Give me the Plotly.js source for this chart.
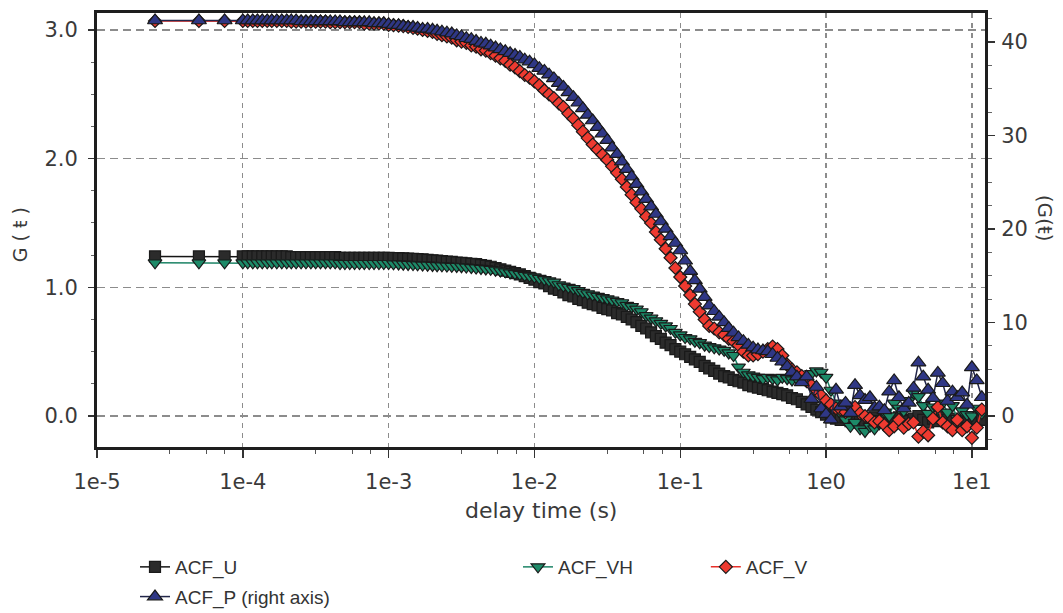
<!DOCTYPE html>
<html>
<head>
<meta charset="utf-8">
<script src="https://cdn.plot.ly/plotly-3.0.1.min.js"></script>
<style>
  html, body { margin: 0; padding: 0; background: #ffffff; }
  #chart { width: 1063px; height: 613px; }
</style>
</head>
<body>
<div id="chart"></div>
<script>
// delay time (s)
const delayTime = [2.5e-5,5e-5,7.5e-5,
  1.00e-4,1.08e-4,1.17e-4,1.26e-4,1.36e-4,1.47e-4,1.58e-4,1.71e-4,1.85e-4,2.00e-4,2.15e-4,2.32e-4,2.51e-4,2.71e-4,2.93e-4,3.16e-4,3.41e-4,3.69e-4,3.98e-4,4.30e-4,4.64e-4,5.01e-4,5.41e-4,5.84e-4,6.31e-4,6.81e-4,7.36e-4,7.94e-4,8.58e-4,9.26e-4,
  1.00e-3,1.08e-3,1.17e-3,1.26e-3,1.36e-3,1.47e-3,1.58e-3,1.71e-3,1.85e-3,2.00e-3,2.15e-3,2.32e-3,2.51e-3,2.71e-3,2.93e-3,3.16e-3,3.41e-3,3.69e-3,3.98e-3,4.30e-3,4.64e-3,5.01e-3,5.41e-3,5.84e-3,6.31e-3,6.81e-3,7.36e-3,7.94e-3,8.58e-3,9.26e-3,
  1.00e-2,1.08e-2,1.17e-2,1.26e-2,1.36e-2,1.47e-2,1.58e-2,1.71e-2,1.85e-2,2.00e-2,2.15e-2,2.32e-2,2.51e-2,2.71e-2,2.93e-2,3.16e-2,3.41e-2,3.69e-2,3.98e-2,4.30e-2,4.64e-2,5.01e-2,5.41e-2,5.84e-2,6.31e-2,6.81e-2,7.36e-2,7.94e-2,8.58e-2,9.26e-2,
  0.100,0.108,0.117,0.126,0.136,0.147,0.158,0.171,0.185,0.200,0.215,0.232,0.251,0.271,0.293,0.316,0.341,0.369,0.398,0.430,0.464,0.501,0.541,0.584,0.631,0.681,0.736,0.794,0.858,0.926,
  1.00,1.08,1.17,1.26,1.36,1.47,1.58,1.71,1.85,2.00,2.15,2.32,2.51,2.71,2.93,3.16,3.41,3.69,3.98,4.30,4.64,5.01,5.41,5.84,6.31,6.81,7.36,7.94,8.58,9.26,
  10.0,10.8,11.7];

const acfU = [1.24,1.24,1.24,
  1.24,1.24,1.24,1.24,1.24,1.24,1.24,1.24,1.24,1.24,1.235,1.235,1.235,1.235,1.235,1.235,1.235,1.235,1.235,1.235,1.23,1.23,1.23,1.23,1.23,1.23,1.23,1.23,1.23,1.23,
  1.23,1.228,1.227,1.225,1.223,1.222,1.22,1.217,1.213,1.21,1.207,1.203,1.20,1.197,1.193,1.19,1.187,1.183,1.18,1.173,1.167,1.16,1.15,1.14,1.13,1.12,1.11,1.10,1.087,1.073,
  1.06,1.04,1.03,1.01,0.99,0.98,0.96,0.94,0.93,0.91,0.90,0.88,0.87,0.86,0.84,0.83,0.82,0.80,0.79,0.77,0.75,0.73,0.70,0.68,0.65,0.62,0.60,0.57,0.55,0.52,
  0.50,0.48,0.46,0.44,0.42,0.39,0.37,0.35,0.33,0.31,0.30,0.28,0.27,0.26,0.24,0.23,0.22,0.21,0.20,0.19,0.18,0.17,0.16,0.14,0.13,0.11,0.09,0.07,0.05,0.03,
  0.01,-0.01,-0.02,-0.03,-0.01,-0.04,-0.02,-0.03,-0.05,-0.02,-0.01,-0.04,-0.03,-0.02,-0.05,-0.01,-0.03,-0.04,-0.02,0.0,-0.03,-0.05,-0.02,-0.04,-0.01,-0.03,-0.02,-0.05,-0.03,-0.01,
  -0.04,-0.02,-0.03];

const acfVH = [1.19,1.19,1.19,
  1.19,1.19,1.19,1.19,1.19,1.19,1.19,1.19,1.19,1.19,1.19,1.19,1.19,1.19,1.19,1.19,1.19,1.19,1.19,1.19,1.185,1.185,1.185,1.185,1.185,1.185,1.185,1.185,1.185,1.185,
  1.185,1.183,1.182,1.18,1.178,1.177,1.175,1.173,1.172,1.17,1.168,1.167,1.165,1.163,1.162,1.16,1.157,1.153,1.15,1.147,1.143,1.14,1.133,1.127,1.12,1.113,1.107,1.10,1.093,1.087,
  1.08,1.07,1.06,1.05,1.04,1.02,1.01,1.00,0.99,0.975,0.96,0.95,0.94,0.93,0.92,0.91,0.90,0.89,0.88,0.86,0.85,0.83,0.81,0.78,0.76,0.74,0.72,0.70,0.68,0.65,
  0.63,0.61,0.60,0.58,0.57,0.55,0.54,0.53,0.52,0.51,0.49,0.47,0.38,0.34,0.32,0.31,0.30,0.29,0.30,0.29,0.28,0.30,0.29,0.28,0.29,0.30,0.31,0.33,0.35,0.34,
  0.30,0.20,0.10,0.02,-0.03,-0.08,-0.05,-0.10,-0.12,-0.08,-0.10,-0.06,0.03,0.0,0.10,0.06,0.04,0.12,0.18,0.15,0.08,0.02,0.07,0.05,0.10,0.03,0.08,-0.02,0.04,0.01,
  0.0,0.06,0.02];

const acfV = [3.07,3.07,3.07,
  3.07,3.07,3.07,3.07,3.07,3.07,3.07,3.07,3.07,3.07,3.065,3.065,3.065,3.065,3.065,3.065,3.065,3.065,3.06,3.06,3.06,3.06,3.06,3.06,3.06,3.05,3.05,3.05,3.05,3.05,
  3.04,3.037,3.033,3.03,3.023,3.017,3.01,3.00,2.993,2.985,2.97,2.96,2.95,2.94,2.92,2.91,2.90,2.88,2.87,2.85,2.84,2.82,2.80,2.78,2.76,2.73,2.71,2.68,2.65,2.63,
  2.60,2.57,2.53,2.50,2.47,2.43,2.40,2.35,2.31,2.26,2.21,2.16,2.11,2.07,2.03,1.99,1.94,1.89,1.84,1.78,1.72,1.66,1.61,1.55,1.50,1.43,1.37,1.30,1.23,1.15,
  1.08,1.01,0.94,0.87,0.81,0.75,0.70,0.68,0.65,0.63,0.60,0.58,0.55,0.50,0.47,0.47,0.48,0.50,0.52,0.54,0.52,0.47,0.40,0.36,0.34,0.31,0.27,0.24,0.20,0.16,
  0.12,0.09,0.06,0.05,0.03,0.06,0.07,0.02,0.0,-0.02,-0.05,-0.04,-0.07,-0.11,-0.08,-0.03,-0.09,-0.06,-0.05,-0.16,-0.12,-0.15,-0.02,0.07,-0.05,-0.08,-0.11,-0.03,-0.11,-0.08,
  -0.17,-0.09,0.05];

// right axis
const acfP = [42.3,42.3,42.3,
  42.3,42.3,42.3,42.3,42.3,42.3,42.3,42.3,42.3,42.3,42.3,42.3,42.2,42.2,42.2,42.2,42.2,42.2,42.2,42.2,42.2,42.1,42.1,42.1,42.1,42.1,42.1,42.0,42.0,42.0,
  41.9,41.8,41.8,41.7,41.6,41.6,41.5,41.4,41.4,41.3,41.2,41.1,41.0,40.9,40.7,40.6,40.4,40.3,40.1,39.9,39.8,39.6,39.4,39.2,39.0,38.8,38.6,38.4,38.1,37.9,
  37.6,37.2,36.9,36.5,36.1,35.6,35.2,34.6,34.1,33.5,32.9,32.2,31.6,30.9,30.2,29.5,28.7,28.0,27.2,26.4,25.6,24.8,24.0,23.2,22.4,21.6,20.8,20.0,19.2,18.5,
  17.7,16.6,15.5,14.5,13.6,12.7,11.8,11.2,10.6,10.0,9.4,8.9,8.4,8.0,7.6,7.3,7.1,7.0,6.9,6.6,6.2,5.8,5.3,4.7,4.2,3.6,4.2,1.8,3.1,0.8,
  0.2,-0.4,2.8,1.0,1.4,0.3,3.3,2.2,1.7,2.0,0.9,1.0,0.6,2.6,3.8,2.0,0.8,1.4,3.0,5.7,4.2,2.8,1.9,4.6,3.5,1.6,2.6,2.0,2.5,1.2,
  5.2,3.8,2.0];

const xTickVals = [1e-5,1e-4,1e-3,1e-2,1e-1,1,10];
const xTickText = ["1e-5","1e-4","1e-3","1e-2","1e-1","1e0","1e1"];
const xMinorVals = [3.16e-5,5.62e-5,7.5e-5,3.16e-4,5.62e-4,7.5e-4,3.16e-3,5.62e-3,7.5e-3,
  3.16e-2,5.62e-2,7.5e-2,0.316,0.562,0.75,3.16,5.62,7.5];
const yTickVals = [0,1,2,3];
const yTickText = ["0.0","1.0","2.0","3.0"];
const y2TickVals = [0,10,20,30,40];
const y2TickText = ["0","10","20","30","40"];

const tickFont = {family: "DejaVu Sans", size: 21, color: "#3a3a3a"};
const mline = {color: "#1a1a1a", width: 1.2};

const traces = [
  {x: delayTime, y: acfU, name: "ACF_U", type: "scatter", mode: "lines+markers",
   line: {color: "#151515", width: 1.5},
   marker: {symbol: "square", size: 11, color: "#2b2b2b", line: mline},
   legend: "legend", legendgroup: "u"},
  {x: delayTime, y: acfVH, name: "ACF_VH", type: "scatter", mode: "lines+markers",
   line: {color: "#1d8466", width: 1.5},
   marker: {symbol: "triangle-down", size: 12, color: "#1d8a68", line: mline},
   legend: "legend2", legendgroup: "vh"},
  {x: delayTime, y: acfV, name: "ACF_V", type: "scatter", mode: "lines+markers",
   line: {color: "#e8302a", width: 1.5},
   marker: {symbol: "diamond", size: 10, color: "#ee3a30", line: mline},
   legend: "legend3", legendgroup: "v"},
  {x: delayTime, y: acfP, name: "ACF_P (right axis)", type: "scatter", mode: "lines+markers",
   yaxis: "y2",
   line: {color: "#22264a", width: 1.5},
   marker: {symbol: "triangle-up", size: 13, color: "#2f3785", line: mline},
   legend: "legend", legendgroup: "p"}
];

const legendBase = {
  orientation: "v", xanchor: "left", yanchor: "top",
  xref: "container", yref: "container",
  bgcolor: "rgba(0,0,0,0)", borderwidth: 0,
  font: {family: "Liberation Sans", size: 19, color: "#333"},
  tracegroupgap: 2, itemwidth: 30
};

const layout = {
  width: 1063, height: 613,
  margin: {l: 97, r: 78, t: 13, b: 166, autoexpand: false},
  paper_bgcolor: "#ffffff", plot_bgcolor: "#ffffff",
  showlegend: true,
  xaxis: {
    type: "log", range: [-5, 1.09], automargin: false,
    tickmode: "array", tickvals: xTickVals, ticktext: xTickText,
    tickfont: tickFont, ticks: "outside", ticklen: 8, tickwidth: 1.5, tickcolor: "#333",
    ticklabelstandoff: 6,
    showgrid: true, gridcolor: "#8c8c8c", gridwidth: 1.3, griddash: "5px,5px",
    showline: true, linecolor: "#1e1e1e", linewidth: 3, mirror: true,
    zeroline: false,
    minor: {tickmode: "array", tickvals: xMinorVals, ticks: "outside", ticklen: 4, tickwidth: 1, tickcolor: "#555", showgrid: false}
  },
  yaxis: {
    range: [-0.241, 3.132], automargin: false,
    tickmode: "array", tickvals: yTickVals, ticktext: yTickText,
    tickfont: tickFont, ticks: "outside", ticklen: 6, tickwidth: 1.5, tickcolor: "#333",
    ticklabelstandoff: 6,
    showgrid: true, gridcolor: "#8c8c8c", gridwidth: 1.3, griddash: "8px,5px",
    showline: true, linecolor: "#1e1e1e", linewidth: 3, mirror: false,
    zeroline: false,
    minor: {dtick: 0.25, ticks: "outside", ticklen: 3, tickwidth: 1, tickcolor: "#666", showgrid: false}
  },
  yaxis2: {
    overlaying: "y", side: "right", automargin: false,
    range: [-3.32, 43.1],
    tickmode: "array", tickvals: y2TickVals, ticktext: y2TickText,
    tickfont: tickFont, ticks: "outside", ticklen: 7, tickwidth: 1.5, tickcolor: "#333",
    ticklabelstandoff: 2,
    showgrid: false,
    showline: true, linecolor: "#1e1e1e", linewidth: 3,
    zeroline: false,
    minor: {dtick: 2.5, ticks: "outside", ticklen: 4, tickwidth: 1, tickcolor: "#666", showgrid: false}
  },
  legend: Object.assign({}, legendBase, {x: 0.127, y: 0.106}),
  legend2: Object.assign({}, legendBase, {x: 0.4873, y: 0.106}),
  legend3: Object.assign({}, legendBase, {x: 0.664, y: 0.106}),
  annotations: [
    {text: "delay time (s)", xref: "paper", yref: "paper", x: 0.5, y: -0.147,
     xanchor: "center", yanchor: "middle", showarrow: false,
     font: {family: "DejaVu Sans", size: 22, color: "#3a3a3a"}},
    {text: "G ( ŧ )", xref: "paper", yref: "paper", x: -0.0867, y: 0.488,
     xanchor: "center", yanchor: "middle", showarrow: false, textangle: -90,
     font: {family: "DejaVu Sans", size: 19, color: "#3a3a3a"}},
    {text: "(G(ŧ)", xref: "paper", yref: "paper", x: 1.0676, y: 0.528,
     xanchor: "center", yanchor: "middle", showarrow: false, textangle: 90,
     font: {family: "DejaVu Sans", size: 20, color: "#3a3a3a"}}
  ]
};

Plotly.newPlot("chart", traces, layout, {displayModeBar: false, staticPlot: true});
</script>
</body>
</html>
